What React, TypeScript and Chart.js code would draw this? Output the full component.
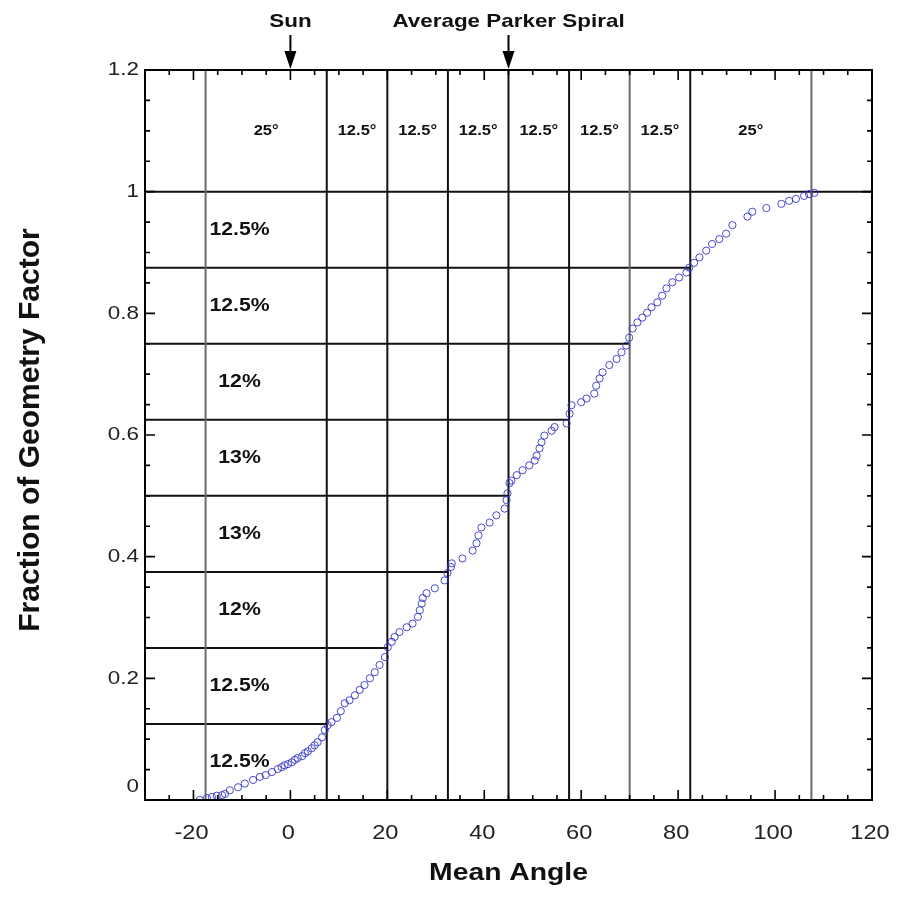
import React, { useEffect, useRef } from "react";
import { Chart, registerables } from "chart.js";

Chart.register(...registerables);

// ---- data ----
const ANGLES = [
  -18.7, -17.2, -16.2, -15.2, -14.1, -13.5, -12.5, -10.8, -9.4, -7.7,
  -6.3, -5.1, -3.8, -2.6, -1.8, -1.2, -0.5, 0.3, 0.9, 1.5,
  2.4, 3.0, 3.6, 4.4, 5.0, 5.6, 6.5, 7.1, 7.7, 8.5,
  9.6, 10.4, 11.2, 12.2, 13.3, 14.3, 15.3, 16.4, 17.4, 18.4,
  19.5, 20.1, 20.9, 21.5, 22.5, 24.0, 25.2, 26.3, 26.7, 27.1,
  27.3, 28.1, 29.8, 31.8, 32.4, 33.1, 33.3, 35.5, 37.6, 38.4,
  38.8, 39.4, 41.1, 42.5, 44.2, 44.6, 44.8, 45.2, 45.6, 46.7,
  47.9, 49.3, 50.4, 50.8, 51.4, 51.8, 52.4, 53.9, 54.5, 57.0,
  57.6, 58.0, 60.0, 61.1, 62.7, 63.1, 63.8, 64.4, 65.8, 67.3,
  68.3, 69.3, 69.9, 70.6, 71.6, 72.6, 73.6, 74.5, 75.7, 76.7,
  77.6, 78.8, 80.2, 81.7, 82.3, 83.3, 84.4, 85.8, 87.0, 88.5,
  89.9, 91.2, 94.3, 95.3, 98.2, 101.3, 102.9, 104.3, 106.0, 107.0,
  108.1,
];
const FRACTIONS = [
  0.0, 0.003, 0.005, 0.007, 0.008, 0.01, 0.016, 0.021, 0.027, 0.033,
  0.038, 0.041, 0.046, 0.051, 0.054, 0.057, 0.059, 0.062, 0.066, 0.069,
  0.072, 0.077, 0.08, 0.085, 0.09, 0.095, 0.103, 0.115, 0.123, 0.128,
  0.135, 0.146, 0.159, 0.164, 0.172, 0.181, 0.189, 0.2, 0.21, 0.222,
  0.235, 0.251, 0.26, 0.268, 0.276, 0.284, 0.29, 0.301, 0.312, 0.323,
  0.332, 0.34, 0.348, 0.361, 0.373, 0.383, 0.389, 0.397, 0.41, 0.422,
  0.435, 0.448, 0.456, 0.468, 0.479, 0.493, 0.504, 0.521, 0.525, 0.534,
  0.542, 0.55, 0.558, 0.566, 0.578, 0.588, 0.599, 0.607, 0.613, 0.619,
  0.635, 0.649, 0.654, 0.66, 0.668, 0.681, 0.693, 0.703, 0.715, 0.725,
  0.736, 0.747, 0.76, 0.775, 0.785, 0.793, 0.801, 0.81, 0.818, 0.829,
  0.841, 0.851, 0.859, 0.867, 0.875, 0.883, 0.892, 0.903, 0.914, 0.922,
  0.931, 0.945, 0.959, 0.967, 0.973, 0.98, 0.985, 0.988, 0.993, 0.996,
  0.998,
];

const BIN_EDGES = [-17.5, 7.5, 20, 32.5, 45, 57.5, 70, 82.5, 107.5];
const BIN_LABELS = ["25°", "12.5°", "12.5°", "12.5°", "12.5°", "12.5°", "12.5°", "25°"];
const LEVELS = [0.125, 0.25, 0.375, 0.5, 0.625, 0.75, 0.875, 1.0];
const LEVEL_ENDS = [7.5, 20, 32.5, 45, 57.5, 70, 82.5, 120];
const PCT_LABELS = ["12.5%", "12.5%", "12%", "13%", "13%", "12%", "12.5%", "12.5%"];
const X_TICKS = [-20, 0, 20, 40, 60, 80, 100, 120];
const X_TICK_LABELS = ["-20", "0", "20", "40", "60", "80", "100", "120"];
const Y_TICKS = [0, 0.2, 0.4, 0.6, 0.8, 1, 1.2];
const Y_TICK_LABELS = ["0", "0.2", "0.4", "0.6", "0.8", "1", "1.2"];
const MARKER_LABELS = ["Sun", "Average Parker Spiral"];
const MARKER_ANGLES = [0, 45];

const X_MIN = -30;
const X_MAX = 120;
const Y_MIN = 0;
const Y_MAX = 1.2;

// ---- styles ----
const FONT = "'Liberation Sans', Arial, Helvetica, sans-serif";
const SX = 1.18; // horizontal stretch of the reference's lettering
const GRAY_EDGES = new Set([-17.5, 70, 107.5]);

function drawText(
  ctx: CanvasRenderingContext2D,
  text: string,
  x: number,
  y: number,
  font: string,
  align: CanvasTextAlign,
  rotate = 0,
  color = "#111"
) {
  ctx.save();
  ctx.translate(x, y);
  if (rotate) {
    ctx.rotate(rotate);
  } else {
    ctx.scale(SX, 1);
  }
  ctx.font = font;
  ctx.fillStyle = color;
  ctx.textAlign = align;
  ctx.textBaseline = "middle";
  ctx.fillText(text, 0, 0);
  ctx.restore();
}

const decorPlugin = {
  id: "decor",
  afterDatasetsDraw(chart: any) {
    const ctx: CanvasRenderingContext2D = chart.ctx;
    const xs = chart.scales.x;
    const ys = chart.scales.y;
    const { left, right, top, bottom } = chart.chartArea;
    const px = (v: number) => xs.getPixelForValue(v);
    const py = (v: number) => ys.getPixelForValue(v);

    // frame
    ctx.save();
    ctx.strokeStyle = "#000";
    ctx.lineWidth = 2;
    ctx.strokeRect(left, top, right - left, bottom - top);

    // inward tick marks on all four sides
    ctx.lineWidth = 1.6;
    ctx.beginPath();
    for (let v = X_MIN + 5; v < X_MAX; v += 5) {
      const len = v % 20 === 0 ? 10 : 5;
      const x = px(v);
      ctx.moveTo(x, bottom);
      ctx.lineTo(x, bottom - len);
      ctx.moveTo(x, top);
      ctx.lineTo(x, top + len);
    }
    for (let i = 1; i < 24; i++) {
      const v = i * 0.05;
      const len = i % 4 === 0 ? 10 : 5;
      const y = py(v);
      ctx.moveTo(left, y);
      ctx.lineTo(left + len, y);
      ctx.moveTo(right, y);
      ctx.lineTo(right - len, y);
    }
    ctx.stroke();
    ctx.restore();

    // tick labels
    X_TICKS.forEach((v, i) => {
      drawText(ctx, X_TICK_LABELS[i], px(v) - 2, 833, `20px ${FONT}`, "center", 0, "#222");
    });
    Y_TICKS.forEach((v, i) => {
      const y = v === 0 ? py(v) - 13 : py(v);
      drawText(ctx, Y_TICK_LABELS[i], 139, y, `19px ${FONT}`, "right", 0, "#222");
    });

    // axis titles
    drawText(ctx, "Mean Angle", (left + right) / 2, 873, `bold 24px ${FONT}`, "center");
    drawText(ctx, "Fraction of Geometry Factor", 31, (top + bottom) / 2 - 5, `bold 30px ${FONT}`, "center", -Math.PI / 2);

    // bin width labels (top band)
    for (let i = 0; i < BIN_LABELS.length; i++) {
      const c = (BIN_EDGES[i] + BIN_EDGES[i + 1]) / 2;
      drawText(ctx, BIN_LABELS[i], px(c), py(1.1), `bold 14px ${FONT}`, "center");
    }

    // percentage labels
    for (let i = 0; i < PCT_LABELS.length; i++) {
      const lo = i === 0 ? 0 : LEVELS[i - 1];
      const mid = (lo + LEVELS[i]) / 2;
      drawText(ctx, PCT_LABELS[i], px(-10.5), py(mid), `bold 18px ${FONT}`, "center");
    }

    // markers above plot
    MARKER_LABELS.forEach((lab, i) => {
      const x = px(MARKER_ANGLES[i]);
      drawText(ctx, lab, x, 22, `bold 19px ${FONT}`, "center");
      ctx.save();
      ctx.strokeStyle = "#000";
      ctx.fillStyle = "#000";
      ctx.lineWidth = 2;
      ctx.beginPath();
      ctx.moveTo(x, 35);
      ctx.lineTo(x, 54);
      ctx.stroke();
      ctx.beginPath();
      ctx.moveTo(x - 6, 51);
      ctx.lineTo(x + 6, 51);
      ctx.lineTo(x, 69);
      ctx.closePath();
      ctx.fill();
      ctx.restore();
    });
  },
};

export default function App() {
  const ref = useRef<HTMLCanvasElement | null>(null);

  useEffect(() => {
    if (!ref.current) return;
    const points = ANGLES.map((a, i) => ({ x: a, y: FRACTIONS[i] }));

    const edgeSets = BIN_EDGES.map((e) => ({
      type: "line" as const,
      data: [
        { x: e, y: Y_MIN },
        { x: e, y: Y_MAX },
      ],
      borderColor: GRAY_EDGES.has(e) ? "#6a6a6a" : "#111",
      borderWidth: 2,
      pointRadius: 0,
      showLine: true,
      order: 2,
    }));
    const levelSets = LEVELS.map((l, i) => ({
      type: "line" as const,
      data: [
        { x: X_MIN, y: l },
        { x: LEVEL_ENDS[i], y: l },
      ],
      borderColor: "#111",
      borderWidth: 2,
      pointRadius: 0,
      showLine: true,
      order: 2,
    }));

    const chart = new Chart(ref.current, {
      type: "scatter",
      data: {
        datasets: [
          {
            type: "scatter",
            data: points,
            pointStyle: "circle",
            pointRadius: 3.6,
            borderWidth: 1,
            borderColor: "rgba(55,55,200,0.9)",
            backgroundColor: "rgba(255,255,255,0)",
            order: 0,
          } as any,
          ...edgeSets,
          ...levelSets,
        ],
      },
      options: {
        animation: false,
        responsive: false,
        layout: { padding: { top: 70, right: 29, left: 0, bottom: 0 } },
        plugins: {
          legend: { display: false },
          tooltip: { enabled: false },
        },
        scales: {
          x: {
            type: "linear",
            min: X_MIN,
            max: X_MAX,
            grid: { display: false },
            border: { display: false },
            ticks: { display: false },
            afterFit: (s: any) => {
              s.height = 101;
            },
          },
          y: {
            type: "linear",
            min: Y_MIN,
            max: Y_MAX,
            grid: { display: false },
            border: { display: false },
            ticks: { display: false },
            afterFit: (s: any) => {
              s.width = 145;
            },
          },
        },
      } as any,
      plugins: [decorPlugin],
    });
    return () => chart.destroy();
  }, []);

  return (
    <div style={{ position: "absolute", left: 0, top: 0, width: 901, height: 901, background: "#fff" }}>
      <canvas ref={ref} width={901} height={901} style={{ width: 901, height: 901, display: "block" }} />
    </div>
  );
}
